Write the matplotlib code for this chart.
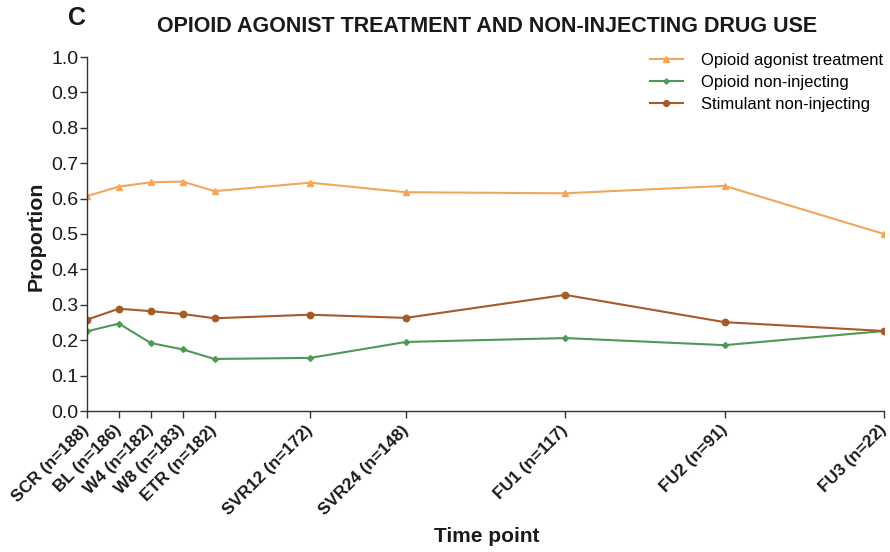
import matplotlib
matplotlib.use("Agg")
import matplotlib.pyplot as plt

plt.rcParams['font.family'] = ['Liberation Sans', 'DejaVu Sans']

# Study visits (weeks relative to treatment start) and sample sizes
weeks = [-4, 0, 4, 8, 12, 24, 36, 56, 76, 96]
visit_labels = ["SCR (n=188)", "BL (n=186)", "W4 (n=182)", "W8 (n=183)", "ETR (n=182)",
                "SVR12 (n=172)", "SVR24 (n=148)", "FU1 (n=117)", "FU2 (n=91)", "FU3 (n=22)"]

oat = [0.607, 0.634, 0.646, 0.648, 0.621, 0.645, 0.618, 0.615, 0.636, 0.500]
opioid_noninj = [0.225, 0.247, 0.192, 0.174, 0.147, 0.150, 0.195, 0.206, 0.186, 0.226]
stim_noninj = [0.258, 0.289, 0.282, 0.274, 0.262, 0.272, 0.263, 0.328, 0.251, 0.226]

c_oat = "#F2A65A"
c_op = "#4E9A55"
c_st = "#A65A28"
c_txt = "#1a1a1a"

fig = plt.figure(figsize=(8.9, 5.52), dpi=100)
ax = fig.add_axes([87 / 890, 1 - 411 / 552, (884 - 87) / 890, (411 - 57) / 552])

ax.plot(weeks, oat, color=c_oat, marker="^", markersize=5, lw=1.5, label="Opioid agonist treatment")
ax.plot(weeks, opioid_noninj, color=c_op, marker="D", markersize=3, lw=1.5, label="Opioid non-injecting")
ax.plot(weeks, stim_noninj, color=c_st, marker="o", markersize=4.6, lw=1.5, label="Stimulant non-injecting")

ax.set_xlim(-4, 96)
ax.set_ylim(0, 1.0)
ax.set_yticks([i / 10 for i in range(11)])
ax.set_yticklabels([f"{i / 10:.1f}" for i in range(11)], fontsize=14, color=c_txt)
ax.set_xticks(weeks)
ax.set_xticklabels(visit_labels, rotation=45, ha="right", va="center",
                   rotation_mode="anchor", fontsize=12.3, fontweight="bold", color=c_txt)

for s in ("top", "right"):
    ax.spines[s].set_visible(False)
for s in ("left", "bottom"):
    ax.spines[s].set_linewidth(1.0)
    ax.spines[s].set_color("#333333")
ax.tick_params(axis="y", length=5, width=1.0, color="#333333", pad=1)
ax.tick_params(axis="x", length=5, width=1.0, color="#333333", pad=7)

fig.text(36 / 890, 1 - 236 / 552, "Proportion", fontsize=15.4, fontweight="bold",
         rotation=90, ha="center", va="center", color=c_txt)
fig.text(487 / 890, 1 - 537 / 552, "Time point", fontsize=15, fontweight="bold",
         ha="center", va="center", color=c_txt)
fig.text(487 / 890, 1 - 27 / 552, "OPIOID AGONIST TREATMENT AND NON-INJECTING DRUG USE",
         fontsize=15.5, fontweight="bold", ha="center", va="center", color=c_txt)
fig.text(77 / 890, 1 - 18 / 552, "C", fontsize=18, fontweight="bold", ha="center", va="center",
         color=c_txt)

ax.legend(loc="upper left", bbox_to_anchor=(643 / 890, 1 - 46 / 552),
          bbox_transform=fig.transFigure, frameon=False, fontsize=12,
          handlelength=2.0, handletextpad=1.1, labelspacing=0.42, borderaxespad=0,
          markerscale=0.9)

fig.savefig("out.png", dpi=100)
